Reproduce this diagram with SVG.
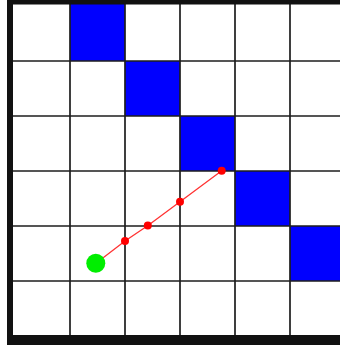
<svg xmlns="http://www.w3.org/2000/svg" width="340" height="345" viewBox="0 0 340 345">
  <style>
    .blue { fill: #0000ff; }
    .grid { stroke: #1e1e1e; stroke-width: 1.7; fill: none; }
    .border { fill: #111111; }
    .dot { fill: #ff0000; }
  </style>
  <rect x="0" y="0" width="340" height="345" fill="#ffffff"/>
  <g id="blocked">
    <rect class="blue" x="70" y="4" width="55" height="57"/>
    <rect class="blue" x="125" y="61" width="55" height="55"/>
    <rect class="blue" x="180" y="116" width="55" height="55"/>
    <rect class="blue" x="235" y="171" width="55" height="55"/>
    <rect class="blue" x="290" y="226" width="55" height="55"/>
  </g>
  <g id="grid" class="grid">
    <path d="M70 0V345M125 0V345M180 0V345M235 0V345M290 0V345"/>
    <path d="M13 61H345M13 116H345M13 171H345M13 226H345M13 281H345"/>
  </g>
  <g id="borders">
    <rect class="border" x="7" y="0" width="333" height="4.5"/>
    <rect class="border" x="7" y="0" width="6" height="345"/>
    <rect class="border" x="7" y="335" width="333" height="10"/>
  </g>
  <g id="connectors">
    <polyline points="96,263.3 125,241 148,225.5 180,201.8 221.7,170.7" fill="none" stroke="#ff3333" stroke-width="1.3"/>
  </g>
  <g id="start">
    <circle cx="95.8" cy="263.3" r="9.5" fill="#00ee00"/>
  </g>
  <g id="waypoints">
    <circle class="dot" cx="125" cy="241" r="4"/>
    <circle class="dot" cx="147.8" cy="225.6" r="4"/>
    <circle class="dot" cx="180" cy="201.8" r="4"/>
    <circle class="dot" cx="221.7" cy="170.7" r="4"/>
  </g>
</svg>
